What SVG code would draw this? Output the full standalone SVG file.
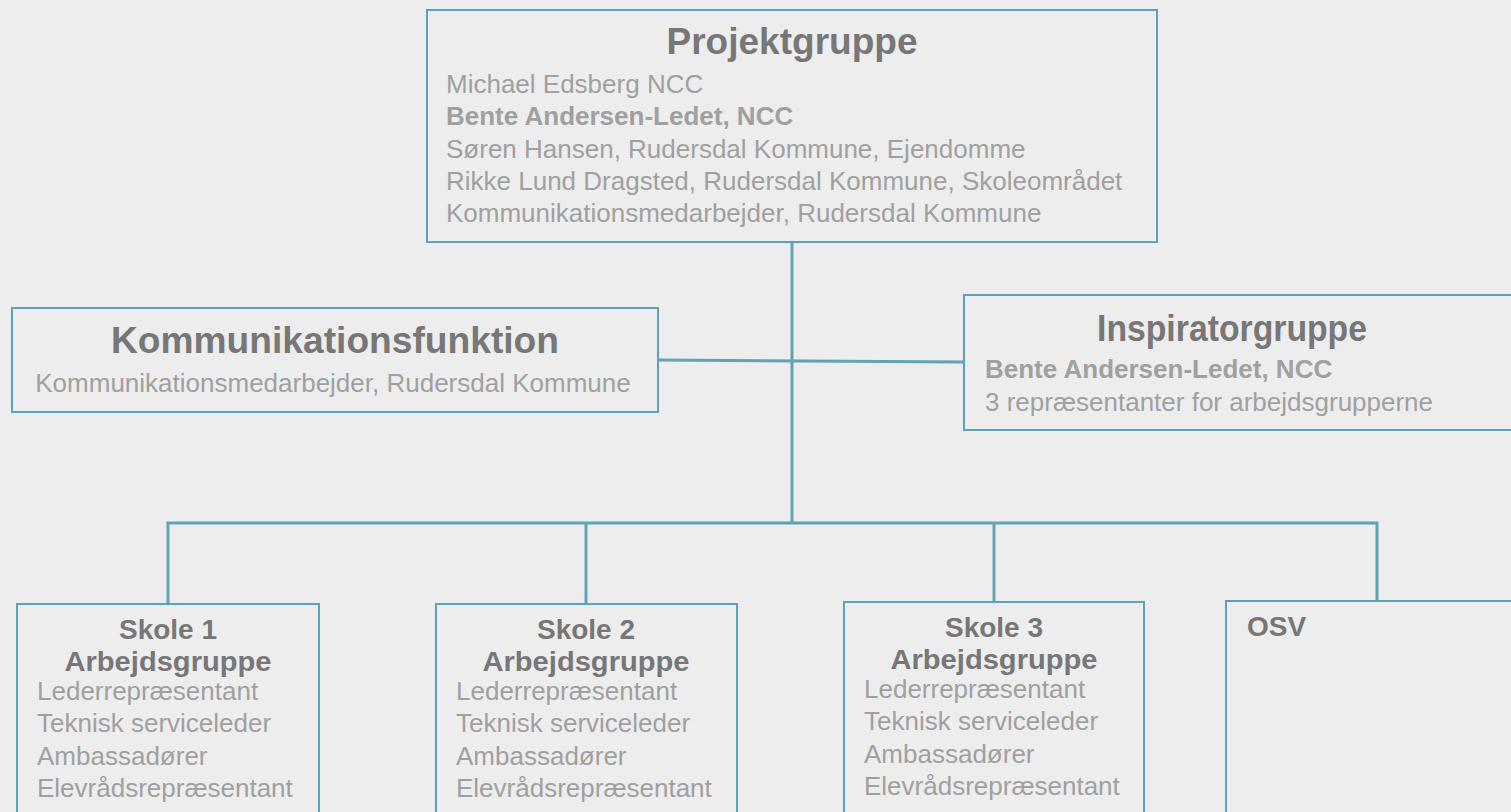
<svg xmlns="http://www.w3.org/2000/svg" width="1511" height="812" viewBox="0 0 1511 812">
<style>
.box{fill:#EDEDED;stroke:#5BA3B8;stroke-width:2}
.con{fill:none;stroke:#5FA3B5;stroke-width:3}
.t{font-family:"Liberation Sans",Arial,sans-serif;font-weight:bold;fill:#777777}
.b{font-family:"Liberation Sans",Arial,sans-serif;fill:#A0A0A0;font-size:26px}
.bb{font-family:"Liberation Sans",Arial,sans-serif;fill:#A0A0A0;font-size:26px;font-weight:bold}
.h1{font-size:36px;text-anchor:middle}
.h2{font-size:28px;text-anchor:middle}
</style>
<rect width="1511" height="812" fill="#EDEDED"/>
<g id="connectors">
<path class="con" d="M792,242 V523"/>
<path class="con" d="M658,360 L964,362"/>
<path class="con" d="M168,604 V523 H1377 V600"/>
<path class="con" d="M586,523 V604"/>
<path class="con" d="M994,523 V602"/>
</g>
<g id="projektgruppe">
<rect class="box" x="427" y="10" width="730" height="232"/>
<text class="t h1" x="792" y="54" textLength="251" lengthAdjust="spacingAndGlyphs">Projektgruppe</text>
<text class="b" x="446" y="93">Michael Edsberg NCC</text>
<text class="bb" x="446" y="125">Bente Andersen-Ledet, NCC</text>
<text class="b" x="446" y="158">Søren Hansen, Rudersdal Kommune, Ejendomme</text>
<text class="b" x="446" y="190">Rikke Lund Dragsted, Rudersdal Kommune, Skoleområdet</text>
<text class="b" x="446" y="222">Kommunikationsmedarbejder, Rudersdal Kommune</text>
</g>
<g id="kommunikationsfunktion">
<rect class="box" x="12" y="308" width="646" height="104"/>
<text class="t h1" x="335" y="353" textLength="448" lengthAdjust="spacingAndGlyphs">Kommunikationsfunktion</text>
<text class="b" x="333" y="392" text-anchor="middle">Kommunikationsmedarbejder, Rudersdal Kommune</text>
</g>
<g id="inspiratorgruppe">
<rect class="box" x="964" y="295" width="560" height="135"/>
<text class="t h1" x="1232" y="341" textLength="270" lengthAdjust="spacingAndGlyphs">Inspiratorgruppe</text>
<text class="bb" x="985" y="378">Bente Andersen-Ledet, NCC</text>
<text class="b" x="985" y="411">3 repræsentanter for arbejdsgrupperne</text>
</g>
<g id="skole1">
<rect class="box" x="17" y="604" width="302" height="220"/>
<text class="t h2" x="168" y="639">Skole 1</text>
<text class="t h2" x="168" y="671" textLength="207" lengthAdjust="spacingAndGlyphs">Arbejdsgruppe</text>
<text class="b" x="37" y="700">Lederrepræsentant</text>
<text class="b" x="37" y="732">Teknisk serviceleder</text>
<text class="b" x="37" y="765">Ambassadører</text>
<text class="b" x="37" y="797">Elevrådsrepræsentant</text>
</g>
<g id="skole2">
<rect class="box" x="436" y="604" width="301" height="220"/>
<text class="t h2" x="586" y="639">Skole 2</text>
<text class="t h2" x="586" y="671" textLength="207" lengthAdjust="spacingAndGlyphs">Arbejdsgruppe</text>
<text class="b" x="456" y="700">Lederrepræsentant</text>
<text class="b" x="456" y="732">Teknisk serviceleder</text>
<text class="b" x="456" y="765">Ambassadører</text>
<text class="b" x="456" y="797">Elevrådsrepræsentant</text>
</g>
<g id="skole3">
<rect class="box" x="844" y="602" width="300" height="222"/>
<text class="t h2" x="994" y="637">Skole 3</text>
<text class="t h2" x="994" y="669" textLength="207" lengthAdjust="spacingAndGlyphs">Arbejdsgruppe</text>
<text class="b" x="864" y="698">Lederrepræsentant</text>
<text class="b" x="864" y="730">Teknisk serviceleder</text>
<text class="b" x="864" y="763">Ambassadører</text>
<text class="b" x="864" y="795">Elevrådsrepræsentant</text>
</g>
<g id="osv">
<rect class="box" x="1226" y="601" width="300" height="223"/>
<text class="t" x="1247" y="636" font-size="28">OSV</text>
</g>
</svg>
